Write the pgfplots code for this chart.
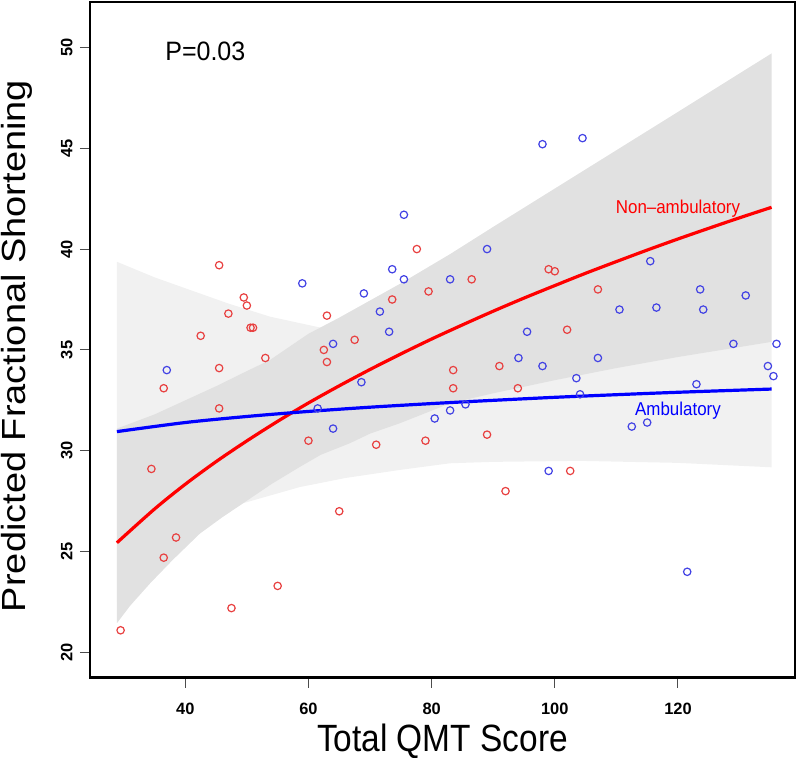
\documentclass[border=0pt]{standalone}
\usepackage{fontspec}
\setmainfont{Liberation Sans}
\usepackage{graphicx}
\usepackage{pgfplots}
\pgfplotsset{compat=1.18}
\definecolor{ptred}{RGB}{232,64,64}
\definecolor{ptblue}{RGB}{66,66,228}
\definecolor{bandlight}{RGB}{241,241,241}
\definecolor{banddark}{RGB}{225,225,225}
\begin{document}
\begin{tikzpicture}
\path[use as bounding box] (-45pt,-40.15pt) rectangle (355pt,338.85pt);
\begin{axis}[at={(0,0)}, anchor=south west, scale only axis,
  width=352.5pt, height=337.85pt,
  xmin=24.53, xmax=139.0, ymin=18.75, ymax=52.25,
  axis line style={line width=1.2pt},
  tick align=outside, major tick length=5pt,
  tick style={line width=0.5pt, black!70},
  xtick pos=left, ytick pos=left,
  xtick={40,60,80,100,120}, ytick={20,25,30,35,40,45,50},
  /pgf/number format/assume math mode=true,
  tick label style={font=\fontsize{8.2}{9}\selectfont\bfseries},
  yticklabel style={rotate=90, anchor=south, inner sep=0pt},
  xticklabel style={anchor=north, inner sep=0pt},
  yticklabel shift=3.5pt, xticklabel shift=7.7pt,
  xlabel={\scalebox{0.88}[1]{Total QMT Score}},
  ylabel={\scalebox{1}[0.88]{Predicted Fractional Shortening}},
  label style={font=\fontsize{19}{21}\selectfont},
  xlabel style={at={([yshift=-36.8pt]axis description cs:0.5,0)}, anchor=base},
  ylabel style={at={([xshift=-32.3pt]axis description cs:0,0.491)}, anchor=base},
]
% Ambulatory confidence band
\addplot[fill=bandlight, draw=none] coordinates {
 (28.9,39.37) (35,38.6) (40.8,37.97) (47,37.3) (53.75,36.65) (61.3,36.15) (65,35.9) (83,35.5) (100,35.5) (120,35.45) (135.2,35.4)
 (135.2,29.18) (120,29.4) (104,29.5) (90,29.45) (83,29.38) (74.85,29.05) (66,28.65) (58.6,28.2) (54,27.8) (49.4,27.4) (45,26.6) (42.4,26.0) (38,24.9) (34,23.9) (28.9,22.5)
} -- cycle;
% Non-ambulatory confidence band
\addplot[fill=banddark, draw=none] coordinates {
 (28.9,31.1) (35,31.8) (40,32.5) (45,33.2) (50,33.95) (53.75,34.5) (60,35.8) (65,36.6) (70,37.45) (75,38.3) (83,39.75) (90,41.1) (100,43.0) (110,44.9) (120,46.8) (135.2,49.7)
 (135.2,35.4) (120,34.65) (110,34.1) (100,33.5) (90,32.85) (83,32.35) (74.8,31.36) (70,30.85) (66.7,30.37) (62,29.8) (58.6,29.2) (54,28.35) (49.4,27.4) (46,26.7) (42.4,25.9) (38,24.6) (34.3,23.43) (31,22.3) (28.9,21.45)
} -- cycle;
% Non-ambulatory points
\addplot[only marks, mark=o, mark size=1.85pt, ptred, mark options={line width=0.6pt}] coordinates {
 (29.5,21.1) (34.5,29.1) (36.5,33.1) (36.5,24.7) (38.5,25.7) (42.5,35.7) (45.5,39.2) (45.5,34.1)
 (45.5,32.1) (47.0,36.8) (47.5,22.2) (49.5,37.6) (50.0,37.2) (50.6,36.1) (51.0,36.1) (53.0,34.6)
 (55.0,23.3) (60.0,30.5) (62.5,35.0) (63.0,36.7) (63.0,34.4) (65.0,27.0) (67.5,35.5) (71.0,30.3)
 (73.6,37.5) (77.6,40.0) (79.0,30.5) (79.5,37.9) (83.5,34.0) (83.5,33.1) (86.5,38.5) (89.0,30.8)
 (91.0,34.2) (92.0,28.0) (94.0,33.1) (99.0,39.0) (100.0,38.9) (102.0,36.0) (102.5,29.0) (107.0,38.0)
};
% Ambulatory points
\addplot[only marks, mark=o, mark size=1.85pt, ptblue, mark options={line width=0.6pt}] coordinates {
 (37.0,34.0) (59.0,38.3) (61.5,32.1) (64.0,35.3) (64.0,31.1) (68.6,33.4) (69.0,37.8) (71.6,36.9)
 (73.1,35.9) (73.6,39.0) (75.5,41.7) (75.5,38.5) (80.5,31.6) (83.0,38.5) (83.0,32.0) (85.5,32.3)
 (89.0,40.0) (94.1,34.6) (95.5,35.9) (98.0,45.2) (98.0,34.2) (99.0,29.0) (103.5,33.6) (104.1,32.8)
 (104.5,45.5) (107.0,34.6) (110.5,37.0) (112.5,31.2) (115.0,31.4) (115.5,39.4) (116.5,37.1) (121.5,24.0)
 (123.0,33.3) (123.6,38.0) (124.1,37.0) (129.0,35.3) (131.0,37.7) (134.6,34.2) (135.5,33.7) (136.0,35.3)
};
% Fitted lines
\addplot[red, line width=1.6pt, smooth] coordinates {
 (28.9,25.44) (35,27.11) (40,28.34) (45,29.46) (50,30.49) (55,31.46) (60,32.37) (65,33.22) (70,34.03)
 (75,34.80) (80,35.54) (85,36.24) (90,36.92) (95,37.57) (100,38.19) (105,38.80) (110,39.38) (115,39.95)
 (120,40.50) (125,41.03) (130,41.55) (135.2,42.07)
};
\addplot[blue, line width=1.6pt, smooth] coordinates {
 (28.9,30.95) (40,31.40) (50,31.70) (60,31.95) (70,32.16) (80,32.34) (90,32.50) (100,32.65) (110,32.78) (120,32.90) (135.2,33.06)
};
\node[anchor=base west, inner sep=0pt, font=\fontsize{13.3}{15}\selectfont] at (axis cs:36.7,49.34) {\scalebox{0.94}[1]{P=0.03}};
\node[anchor=base, red, font=\fontsize{9.3}{11}\selectfont] at (axis cs:120,41.77) {\scalebox{0.91}[1]{Non--ambulatory}};
\node[anchor=base, blue, font=\fontsize{9.3}{11}\selectfont] at (axis cs:120,31.76) {\scalebox{0.91}[1]{Ambulatory}};
\end{axis}
\end{tikzpicture}
\end{document}
